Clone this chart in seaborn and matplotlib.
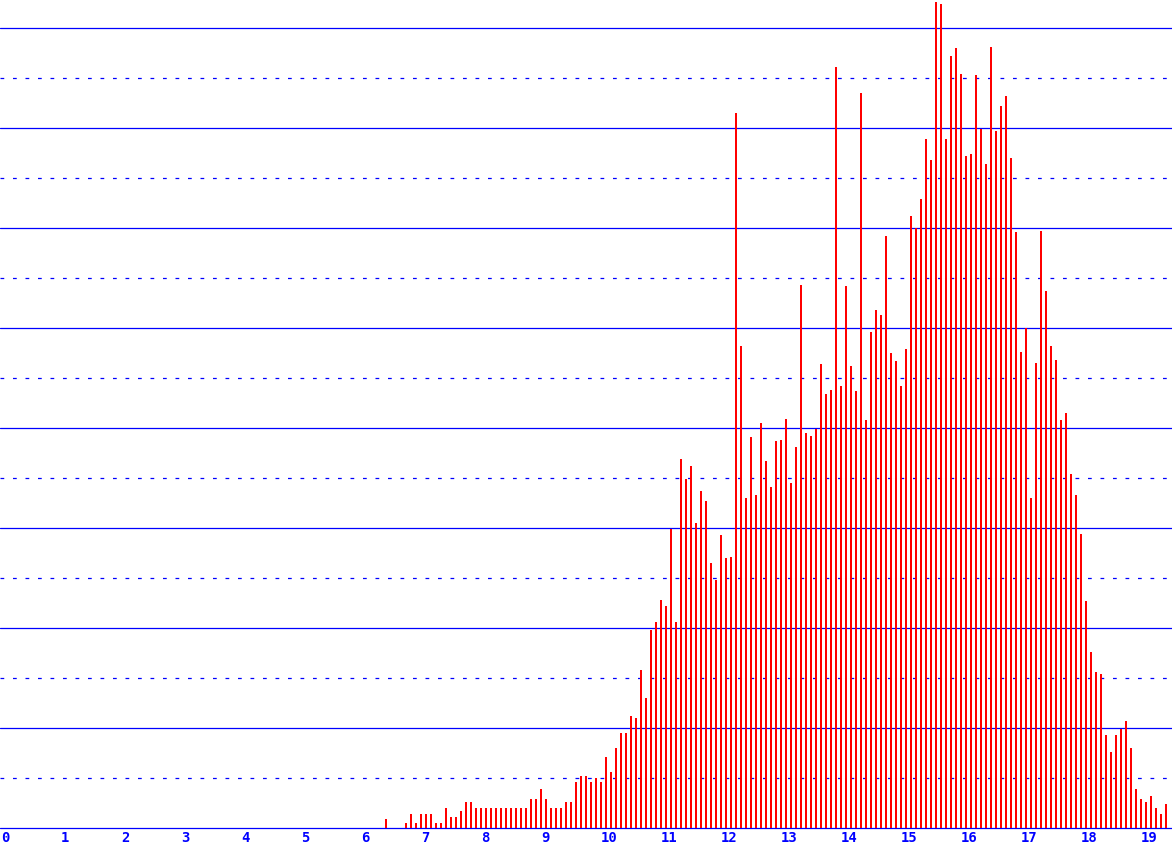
import numpy as np
import pandas as pd
import matplotlib
matplotlib.use("Agg")
import matplotlib.pyplot as plt
import seaborn as sns

# ---- data ----
bin_width = 1 / 12
first_bin = 77  # first bin index (x = index * bin_width)
heights = [
    9, 0, 0, 0, 5, 14, 5, 14, 14, 14, 5, 5, 20, 11, 11, 17, 26, 26, 20, 20,
    20, 20, 20, 20, 20, 20, 20, 20, 20, 29, 29, 39, 29, 20, 20, 20, 26, 26, 46, 52,
    52, 46, 50, 46, 71, 56, 80, 95, 95, 112, 110, 158, 130, 198, 206, 228, 222, 299, 206, 369,
    349, 362, 305, 337, 327, 265, 248, 293, 270, 271, 715, 482, 330, 391, 333, 405, 367, 341, 387, 388,
    409, 345, 381, 543, 395, 392, 399, 464, 434, 438, 761, 442, 542, 462, 437, 735, 408, 496, 518, 513,
    592, 475, 467, 442, 479, 612, 600, 629, 689, 668, 826, 824, 689, 772, 780, 754, 672, 674, 753, 699,
    664, 781, 697, 722, 732, 670, 596, 476, 500, 330, 465, 597, 537, 482, 468, 408, 415, 354, 333, 294,
    227, 176, 156, 154, 93, 76, 93, 99, 107, 80, 39, 29, 26, 32, 20, 14, 24,
]
positions = np.round((first_bin + np.arange(len(heights))) * bin_width, 6)
tick_labels = [str(i) for i in range(20)]
tick_values = list(range(20))
major_levels = list(range(0, 801, 100))
minor_levels = list(range(50, 801, 100))

df = pd.DataFrame({"x": positions, "h": heights})

# ---- figure ----
sns.set_style("white")
fig = plt.figure(figsize=(11.72, 8.48), dpi=100)
ax = fig.add_axes([0, 20 / 848, 1, 828 / 848])

for lv in major_levels:
    ax.axhline(lv, color="#0000ff", lw=0.9, zorder=0, clip_on=False)
for lv in minor_levels:
    ax.axhline(lv, color="#0000ff", lw=0.9, ls=(0, (3, 7)), zorder=0)

sns.barplot(data=df, x="x", y="h", native_scale=True, width=0.42,
            color="#ff0000", saturation=1, errorbar=None, linewidth=0,
            antialiased=False, ax=ax, zorder=2)

ax.set_xlim(-1 / 60, 1172 / 60 - 1 / 60)
ax.set_ylim(0, 828)
ax.set_yticks([])
ax.set_xticks(tick_values)
ax.set_xticklabels(tick_labels, family="DejaVu Sans Mono", fontweight="bold",
                   fontsize=10, color="#0000ff", ha="left")
ax.tick_params(axis="x", length=0, pad=2)
ax.set_xlabel("")
ax.set_ylabel("")
for s in ax.spines.values():
    s.set_visible(False)
ax.set_facecolor("white")

fig.savefig("out.png", dpi=100, facecolor="white")
